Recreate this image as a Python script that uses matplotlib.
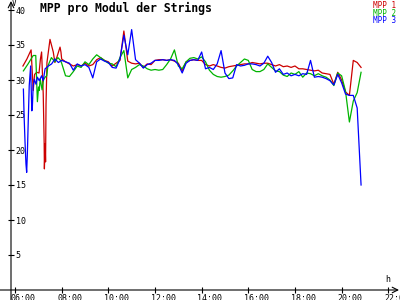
import numpy as np
import matplotlib.pyplot as plt
import matplotlib.transforms as mtransforms

# --- data (time of day in hours, MPP voltage per module in V) ---
early_t_mpp1 = [6.34, 6.51, 6.69, 6.78, 6.84, 6.93, 7.03, 7.09, 7.14, 7.21,
                7.25, 7.26, 7.29, 7.31, 7.33, 7.37, 7.50, 7.64, 7.71, 7.80, 7.93, 7.97]
early_mpp1 = [32.0, 33.0, 34.3, 28.5, 30.8, 31.1, 31.0, 33.0, 34.0, 28.0,
              21.0, 17.3, 20.9, 18.3, 26.6, 32.5, 35.8, 34.0, 32.5, 33.3, 34.7, 34.0]

early_t_mpp2 = [6.36, 6.56, 6.78, 6.89, 6.96, 7.01, 7.04, 7.08, 7.16, 7.22,
                7.29, 7.36, 7.41, 7.56, 7.71, 7.84, 7.95]
early_mpp2 = [31.3, 32.3, 33.5, 33.5, 26.9, 29.0, 28.5, 30.2, 28.6, 30.0,
              30.4, 30.6, 32.0, 33.2, 32.6, 33.2, 32.8]

early_t_mpp3 = [6.36, 6.39, 6.43, 6.47, 6.50, 6.53, 6.57, 6.61, 6.67, 6.72,
                6.74, 6.78, 6.83, 6.90, 6.96, 7.04, 7.14, 7.21, 7.29, 7.43,
                7.57, 7.71, 7.86]
early_mpp3 = [28.7, 24.9, 21.1, 18.0, 16.8, 19.5, 24.4, 29.2, 32.0, 25.6,
              25.8, 29.2, 30.1, 29.4, 30.4, 29.9, 30.6, 29.9, 31.6, 32.0,
              32.3, 33.0, 32.5]

# 10 minute values from 08:00 to 20:50
mid_mpp1 = [33.0, 32.6, 32.3, 32.0, 32.2, 32.0, 32.4, 32.0, 32.2, 32.9,
            33.2, 32.8, 32.6, 32.0, 32.4, 32.8, 37.0, 32.7, 32.4, 32.3,
            32.4, 31.8, 32.3, 32.2, 32.8, 32.9, 32.9, 32.8, 32.9, 32.7,
            32.4, 31.3, 32.6, 32.8, 32.9, 32.8, 32.8, 32.2, 32.0, 32.2,
            32.0, 31.8, 31.7, 31.9, 32.0, 32.1, 32.2, 32.3, 32.3, 32.5,
            32.4, 32.3, 32.4, 32.4, 32.2, 32.0, 32.2, 31.9, 32.0, 31.8,
            32.0, 31.6, 31.6, 31.5, 31.4, 31.3, 31.4, 31.0, 30.9, 30.8,
            29.4, 31.1, 30.0, 28.3, 27.8, 32.8, 32.5, 31.8]
mid_mpp2 = [32.4, 30.6, 30.5, 31.2, 32.0, 31.8, 32.6, 32.2, 33.0, 33.6,
            33.2, 32.8, 32.4, 32.3, 31.9, 33.2, 34.2, 30.3, 31.5, 31.8,
            32.2, 32.0, 31.6, 31.4, 31.5, 31.4, 31.5, 32.2, 33.0, 34.3,
            32.0, 31.6, 32.6, 33.1, 33.2, 33.0, 33.3, 32.6, 31.4, 30.8,
            30.5, 30.4, 30.5, 30.7, 31.3, 32.0, 32.5, 33.0, 32.8, 31.5,
            31.2, 31.2, 31.5, 32.3, 31.8, 31.3, 31.2, 30.7, 30.5, 31.0,
            30.8, 31.2, 30.4, 31.0, 30.9, 30.6, 30.9, 30.6, 30.4, 30.0,
            29.2, 31.0, 30.6, 28.4, 24.0, 27.0, 28.2, 31.1]
mid_mpp3 = [32.8, 32.6, 32.4, 31.4, 32.3, 32.0, 32.2, 31.8, 30.3, 32.6,
            33.0, 32.7, 32.5, 31.8, 31.7, 33.0, 36.4, 33.6, 37.2, 32.9,
            32.4, 31.7, 32.2, 32.4, 32.8, 32.8, 32.9, 32.8, 32.9, 32.8,
            32.2, 31.0, 32.4, 32.8, 32.9, 32.8, 34.0, 31.6, 31.8, 31.5,
            32.3, 34.2, 31.0, 30.2, 30.3, 32.2, 32.0, 32.1, 32.3, 32.3,
            32.2, 32.0, 32.4, 33.4, 32.5, 31.1, 31.6, 30.8, 31.0, 30.6,
            30.8, 30.6, 30.9, 30.8, 32.8, 30.4, 30.5, 30.4, 30.2, 29.9,
            29.3, 30.8, 29.6, 28.0, 27.8, 27.8, 26.0, 15.0]

labels = ['MPP 1', 'MPP 2', 'MPP 3']
colors = ['#cc0000', '#00b400', '#0000ff']
x_ticks = [6, 8, 10, 12, 14, 16, 18, 20, 22]
x_ticklabels = ['06:00', '08:00', '10:00', '12:00', '14:00', '16:00', '18:00', '20:00', '22:00']
y_ticks = [5, 10, 15, 20, 25, 30, 35, 40]

mid_t = 8 + np.arange(len(mid_mpp1)) / 6.0
series = [
    (early_t_mpp1, early_mpp1, mid_mpp1),
    (early_t_mpp2, early_mpp2, mid_mpp2),
    (early_t_mpp3, early_mpp3, mid_mpp3),
]

mono = 'DejaVu Sans Mono'
fig = plt.figure(figsize=(4, 3), dpi=100)
ax = fig.add_axes([11 / 400, 10 / 300, 385 / 400, 287 / 300])
ax.set_xlim(6 - 4 / 23.33, 6 + 381 / 23.33)
ax.set_ylim(0, 41)
for s in ax.spines.values():
    s.set_visible(False)

for (te, ve, vm), c in zip(series, colors):
    t = np.concatenate([te, mid_t])
    v = np.concatenate([ve, vm])
    ax.plot(t, v, color=c, lw=0.9)

# axes with arrows
arr = dict(arrowstyle='->', color='black', lw=0.8, shrinkA=0, shrinkB=0)
ax.annotate('', xy=(11, 299), xytext=(11, -2), xycoords='figure pixels',
            textcoords='figure pixels', arrowprops=arr)
ax.annotate('', xy=(399, 10), xytext=(-2, 10), xycoords='figure pixels',
            textcoords='figure pixels', arrowprops=arr)

ax.set_xticks(x_ticks)
ax.set_xticklabels(x_ticklabels, fontsize=6, family=mono, ha='left')
ax.set_yticks(y_ticks)
ax.set_yticklabels([str(y) for y in y_ticks], fontsize=6, family=mono, ha='left')
ax.tick_params(direction='inout', length=5, width=0.8)
ax.tick_params(axis='x', pad=0.5)
ax.tick_params(axis='y', pad=-6)
shift = mtransforms.ScaledTranslation(-4.3 / 100, 0, fig.dpi_scale_trans)
for lab in ax.get_xticklabels():
    lab.set_transform(lab.get_transform() + shift)

fig.text(12 / 400, 1 + 1 / 300, 'V', fontsize=5.5, family=mono, va='top')
fig.text(385 / 400, 16 / 300, 'h', fontsize=6, family=mono, va='bottom')
fig.text(40 / 400, 1 - 2 / 300, 'MPP pro Modul der Strings', fontsize=8.3,
         family=mono, fontweight='bold', va='top')
for i, (lab, c) in enumerate(zip(labels, colors)):
    fig.text(396 / 400, 1 - (1 + 7.5 * i) / 300, lab, fontsize=5.5, family=mono,
             color=c, ha='right', va='top')

fig.savefig('out.png', dpi=100)
